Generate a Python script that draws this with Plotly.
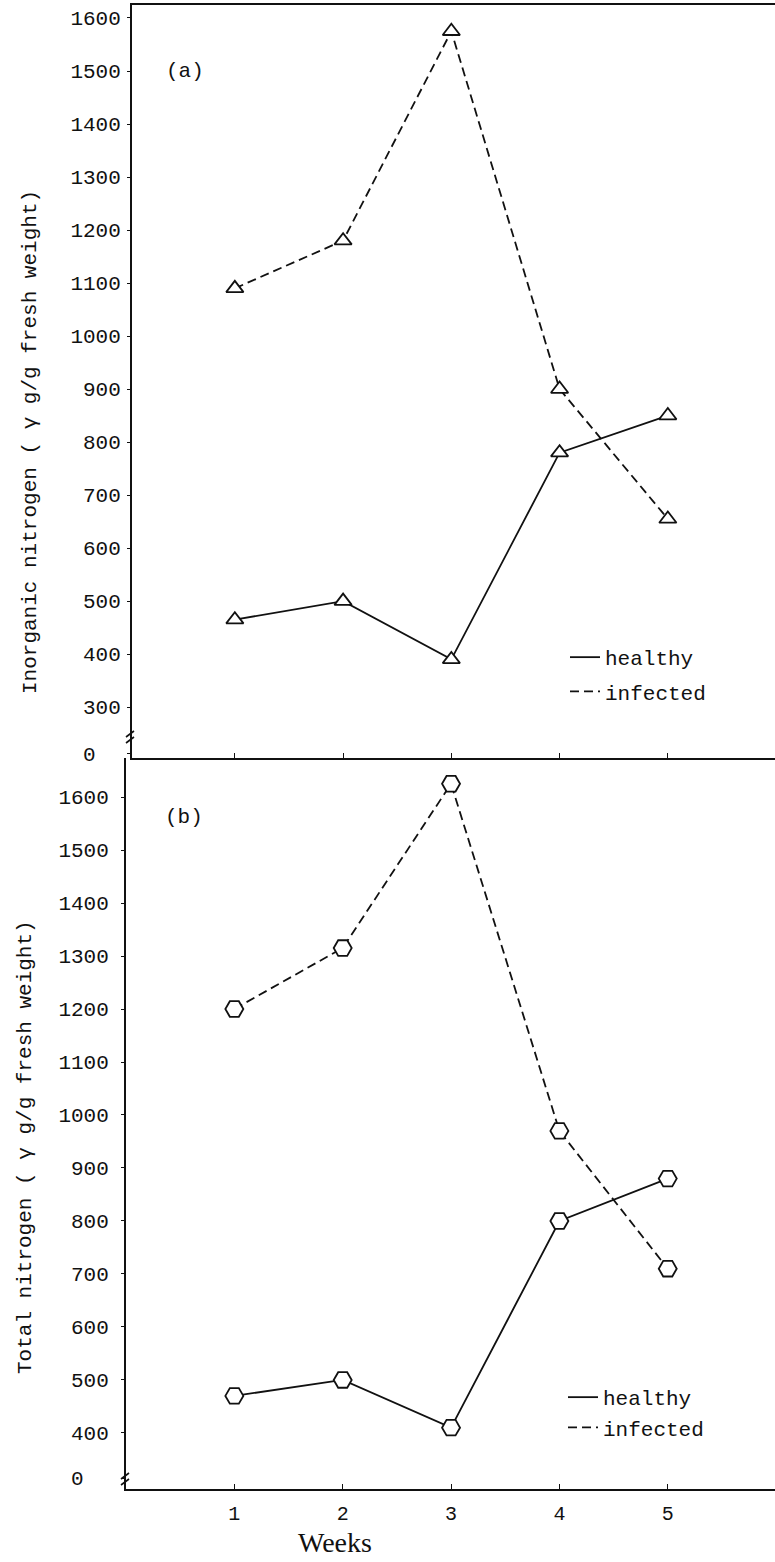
import plotly.graph_objects as go

# ---------------- data ----------------
weeks = [1, 2, 3, 4, 5]
inorganic_healthy = [465, 500, 390, 780, 850]
inorganic_infected = [1090, 1180, 1575, 900, 655]
total_healthy = [470, 500, 410, 800, 880]
total_infected = [1200, 1315, 1625, 970, 710]

# broken axes: the "0" label sits just below the first real tick
ya_tickvals = [212, 300, 400, 500, 600, 700, 800, 900, 1000, 1100, 1200, 1300, 1400, 1500, 1600]
yb_tickvals = [315, 400, 500, 600, 700, 800, 900, 1000, 1100, 1200, 1300, 1400, 1500, 1600]
ya_ticktext = ["0\u00a0\u00a0"] + [str(v) for v in ya_tickvals[1:]]
yb_ticktext = ["0\u00a0\u00a0"] + [str(v) for v in yb_tickvals[1:]]

series_names = ["healthy", "infected"]

# ---------------- layout helpers ----------------
W, H = 775, 1562
ML, MR, MT, MB = 126, 0, 5, 73
PW, PH = W - ML - MR, H - MT - MB


def px(xp):
    return (xp - ML) / PW


def py(yp):
    return (H - MB - yp) / PH


MONO = "Liberation Mono, Courier New, monospace"
SERIF = "Liberation Serif, Times New Roman, serif"
BLACK = "#111111"
split = py(758)

fig = go.Figure()

# panel (a) lines
fig.add_trace(go.Scatter(x=weeks, y=inorganic_healthy, mode="lines", name=series_names[0],
                         line=dict(color=BLACK, width=1.8), xaxis="x", yaxis="y",
                         legend="legend", legendgroup="ah"))
fig.add_trace(go.Scatter(x=weeks, y=inorganic_infected, mode="lines", name=series_names[1],
                         line=dict(color=BLACK, width=1.8, dash="9px,5px"), xaxis="x", yaxis="y",
                         legend="legend", legendgroup="ai"))
# panel (a) markers
for ys in (inorganic_healthy, inorganic_infected):
    fig.add_trace(go.Scatter(x=weeks, y=ys, mode="markers", showlegend=False,
                             marker=dict(symbol="triangle-up", size=15, color="white",
                                         line=dict(color=BLACK, width=1.8)),
                             xaxis="x", yaxis="y"))

# panel (b) lines
fig.add_trace(go.Scatter(x=weeks, y=total_healthy, mode="lines", name=series_names[0],
                         line=dict(color=BLACK, width=1.8), xaxis="x2", yaxis="y2",
                         legend="legend2", legendgroup="bh"))
fig.add_trace(go.Scatter(x=weeks, y=total_infected, mode="lines", name=series_names[1],
                         line=dict(color=BLACK, width=1.8, dash="9px,5px"), xaxis="x2", yaxis="y2",
                         legend="legend2", legendgroup="bi"))
for ys in (total_healthy, total_infected):
    fig.add_trace(go.Scatter(x=weeks, y=ys, mode="markers", showlegend=False,
                             marker=dict(symbol="hexagon2", size=18, color="white",
                                         line=dict(color=BLACK, width=1.8)),
                             xaxis="x2", yaxis="y2"))

tickfont = dict(family=MONO, size=21, color=BLACK)

fig.update_layout(
    width=W, height=H,
    margin=dict(l=ML, r=MR, t=MT, b=MB),
    paper_bgcolor="white", plot_bgcolor="white",
    font=dict(family=MONO, color=BLACK),
    xaxis=dict(domain=[px(132), 1], range=[0.05, 5.99], anchor="y",
               tickvals=weeks, showticklabels=False, ticks="inside", ticklen=5,
               tickcolor=BLACK, showline=True, linecolor=BLACK, linewidth=2,
               mirror=True, showgrid=False, zeroline=False),
    yaxis=dict(domain=[split, 1], range=[204, 1624.5], anchor="x",
               tickvals=ya_tickvals, ticktext=ya_ticktext, ticks="outside", ticklen=3,
               tickcolor=BLACK, tickfont=tickfont, ticklabelstandoff=2,
               showline=True, linecolor=BLACK, linewidth=2, showgrid=False, zeroline=False),
    xaxis2=dict(domain=[0, 1], range=[0, 5.99], anchor="y2",
                tickvals=weeks, ticktext=[str(w) for w in weeks], ticks="inside", ticklen=5,
                tickcolor=BLACK, tickfont=dict(family=MONO, size=20, color=BLACK),
                ticklabelstandoff=5,
                showline=True, linecolor=BLACK, linewidth=2, showgrid=False, zeroline=False),
    yaxis2=dict(domain=[0, split], range=[294.3, 1673.6], anchor="x2",
                tickvals=yb_tickvals, ticktext=yb_ticktext, ticks="outside", ticklen=3,
                tickcolor=BLACK, tickfont=tickfont, ticklabelstandoff=8,
                showline=True, linecolor=BLACK, linewidth=2, showgrid=False, zeroline=False),
    legend=dict(x=px(565), y=py(637), xanchor="left", yanchor="top",
                font=dict(family=MONO, size=21, color=BLACK), bgcolor="rgba(0,0,0,0)",
                tracegroupgap=4, itemwidth=30),
    legend2=dict(x=px(563), y=py(1377), xanchor="left", yanchor="top",
                 font=dict(family=MONO, size=21, color=BLACK), bgcolor="rgba(0,0,0,0)",
                 tracegroupgap=0, itemwidth=30),
    showlegend=True,
)

annotations = [
    dict(text="(a)", x=px(185), y=py(72), xref="paper", yref="paper",
         xanchor="center", yanchor="middle",
         showarrow=False, font=dict(family=MONO, size=21, color=BLACK)),
    dict(text="(b)", x=px(184), y=py(817), xref="paper", yref="paper",
         xanchor="center", yanchor="middle",
         showarrow=False, font=dict(family=MONO, size=21, color=BLACK)),
    dict(text="Inorganic nitrogen ( γ g/g fresh weight)", x=px(30), y=py(442),
         xref="paper", yref="paper", textangle=-90, showarrow=False,
         xanchor="center", yanchor="middle",
         font=dict(family=MONO, size=21, color=BLACK)),
    dict(text="Total nitrogen ( γ g/g fresh weight)", x=px(25), y=py(1147),
         xref="paper", yref="paper", textangle=-90, showarrow=False,
         xanchor="center", yanchor="middle",
         font=dict(family=MONO, size=21, color=BLACK)),
    dict(text="Weeks", x=px(335), y=py(1543), xref="paper", yref="paper",
         xanchor="center", yanchor="middle",
         showarrow=False, font=dict(family=SERIF, size=28, color=BLACK)),
]
fig.update_layout(annotations=annotations)


# axis-break marks (decoration)
def brk(xc, yc):
    p = ""
    for dy in (-3, 3):
        p += "M{},{} L{},{} ".format(px(xc - 5), py(yc + dy + 3), px(xc + 3), py(yc + dy - 3))
    return dict(type="path", path=p.strip(), xref="paper", yref="paper",
                line=dict(color=BLACK, width=1.6))


fig.update_layout(shapes=[brk(131, 737), brk(126, 1479)])

fig.write_html("out.html")
